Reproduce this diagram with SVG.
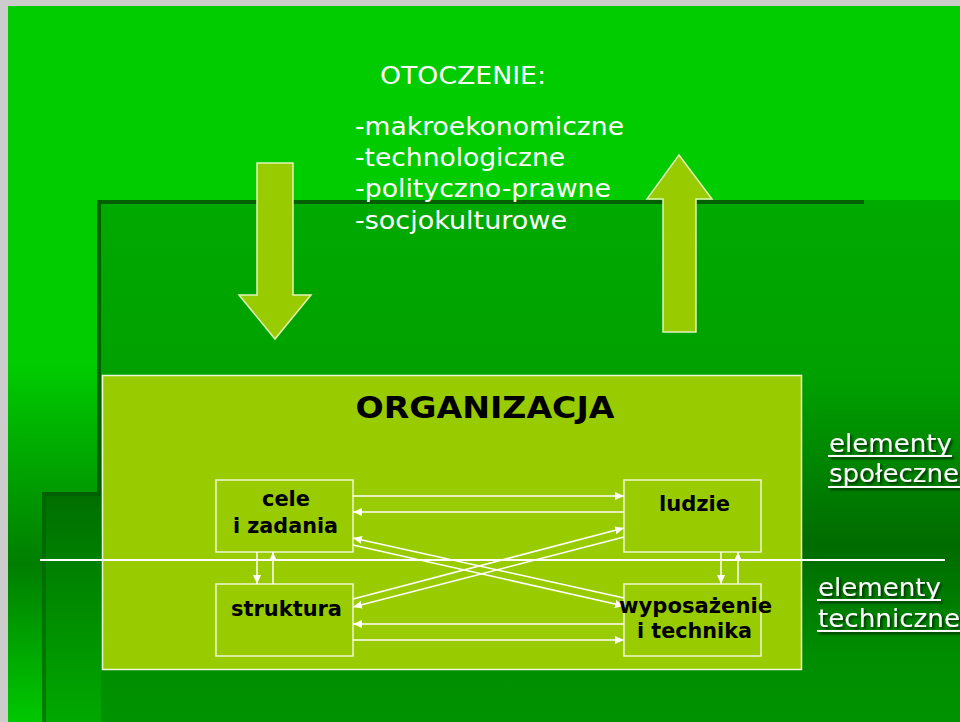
<svg xmlns="http://www.w3.org/2000/svg" width="960" height="722" viewBox="0 0 960 722">
<defs>
<style>
.bg{stroke:none}
.edge{fill:#006000}
.big{fill:#99CC00;stroke:#E4F2B8;stroke-width:1.5}
.org{fill:#99CC00;stroke:#EEF7D4;stroke-width:1.5}
.box{fill:#99CC00;stroke:#EEF7D4;stroke-width:1.5}
.lbl{font-family:"DejaVu Sans",Verdana,sans-serif;font-weight:bold;fill:#000;text-anchor:middle}
.env{font-family:"DejaVu Sans",Verdana,sans-serif;fill:#fff;font-size:25.5px}
.side{font-family:"DejaVu Sans",Verdana,sans-serif;fill:#fff;font-size:25.5px}
.ul{stroke:#fff;stroke-width:2}
.con{stroke:#fff;stroke-width:1.5;fill:none;marker-end:url(#ah)}
</style>
<linearGradient id="gA" gradientUnits="userSpaceOnUse" x1="0" y1="6" x2="0" y2="722">
<stop offset="0" stop-color="#00CC00"/>
<stop offset="0.5" stop-color="#00CC00"/>
<stop offset="0.78" stop-color="#007E00"/>
<stop offset="1" stop-color="#00C800"/>
</linearGradient>
<linearGradient id="gB" gradientUnits="userSpaceOnUse" x1="0" y1="200" x2="0" y2="722">
<stop offset="0" stop-color="#00AA00"/>
<stop offset="0.345" stop-color="#00A000"/>
<stop offset="0.66" stop-color="#006B00"/>
<stop offset="0.88" stop-color="#008E00"/>
<stop offset="1" stop-color="#009200"/>
</linearGradient>
<linearGradient id="gC" gradientUnits="userSpaceOnUse" x1="0" y1="492" x2="0" y2="722">
<stop offset="0" stop-color="#006E00"/>
<stop offset="1" stop-color="#00A800"/>
</linearGradient>
<filter id="sh" x="-10%" y="-30%" width="130%" height="180%">
<feDropShadow dx="2" dy="2" stdDeviation="1" flood-color="#002800" flood-opacity="0.85"/>
</filter>
<marker id="ah" markerWidth="9" markerHeight="8" refX="9" refY="4" orient="auto" markerUnits="userSpaceOnUse">
<path d="M0,0 L9,4 L0,8 z" fill="#fff"/>
</marker>
</defs>

<g id="background">
<rect width="960" height="722" fill="#CCCCCC"/>
<rect class="bg" x="8" y="6" width="952" height="716" fill="url(#gA)"/>
<rect class="bg" x="97" y="200" width="863" height="522" fill="url(#gB)"/>
<rect class="edge" x="97" y="200" width="767" height="4"/>
<rect class="edge" x="97" y="200" width="4" height="522"/>
<rect class="bg" x="42" y="492" width="59" height="230" fill="url(#gC)"/>
<rect class="edge" x="42" y="492" width="59" height="4"/>
<rect x="42" y="492" width="4" height="230" fill="#006000" opacity="0.6"/>
</g>

<g id="arrow-in">
<path class="big" d="M257,163 L293,163 L293,295 L311,295 L275,339 L239,295 L257,295 Z"/>
</g>
<g id="arrow-out">
<path class="big" d="M663,332 L696,332 L696,199 L712,199 L679,155 L647,199 L663,199 Z"/>
</g>

<g id="otoczenie">
<text class="env" x="380" y="84" textLength="166" lengthAdjust="spacingAndGlyphs">OTOCZENIE:</text>
<text class="env" x="355" y="135" textLength="269" lengthAdjust="spacingAndGlyphs">-makroekonomiczne</text>
<text class="env" x="355" y="166" textLength="210" lengthAdjust="spacingAndGlyphs">-technologiczne</text>
<text class="env" x="355" y="197" textLength="256" lengthAdjust="spacingAndGlyphs">-polityczno-prawne</text>
<text class="env" x="355" y="229" textLength="212" lengthAdjust="spacingAndGlyphs">-socjokulturowe</text>
</g>

<g id="organizacja">
<rect class="org" x="102.5" y="375.5" width="699" height="294"/>
<text class="lbl" x="485" y="418" font-size="31" textLength="259" lengthAdjust="spacingAndGlyphs">ORGANIZACJA</text>
</g>

<g id="cele">
<rect class="box" x="216" y="480" width="137" height="72"/>
<text class="lbl" x="286" y="506" font-size="21" textLength="48" lengthAdjust="spacingAndGlyphs">cele</text>
<text class="lbl" x="285.5" y="533" font-size="21" textLength="105" lengthAdjust="spacingAndGlyphs">i zadania</text>
</g>
<g id="ludzie">
<rect class="box" x="624" y="480" width="137" height="72"/>
<text class="lbl" x="694.5" y="511" font-size="21" textLength="71" lengthAdjust="spacingAndGlyphs">ludzie</text>
</g>
<g id="struktura">
<rect class="box" x="216" y="584" width="137" height="72"/>
<text class="lbl" x="286.5" y="616" font-size="21" textLength="111" lengthAdjust="spacingAndGlyphs">struktura</text>
</g>

<line x1="40" y1="560" x2="945" y2="560" stroke="#fff" stroke-width="2"/>

<g id="connectors">
<path class="con" d="M353,496 L624,496"/>
<path class="con" d="M624,512 L353,512"/>
<path class="con" d="M624,598 L353,538"/>
<path class="con" d="M353,545 L624,606"/>
<path class="con" d="M353,599 L624,528"/>
<path class="con" d="M624,537 L353,607"/>
<path class="con" d="M624,624 L353,624"/>
<path class="con" d="M353,640 L624,640"/>
<path class="con" d="M257,552 L257,584"/>
<path class="con" d="M273,584 L273,552"/>
<path class="con" d="M721,552 L721,584"/>
<path class="con" d="M738,584 L738,552"/>
</g>

<g id="wyposazenie">
<rect class="box" x="624" y="584" width="137" height="72"/>
<text class="lbl" x="695.5" y="613" font-size="21" textLength="153" lengthAdjust="spacingAndGlyphs">wyposażenie</text>
<text class="lbl" x="694.5" y="638" font-size="21" textLength="115" lengthAdjust="spacingAndGlyphs">i technika</text>
</g>

<g id="elementy-spoleczne" filter="url(#sh)">
<text class="side" x="829" y="452" textLength="123" lengthAdjust="spacingAndGlyphs">elementy</text>
<line class="ul" x1="828" y1="456" x2="952" y2="456"/>
<text class="side" x="829" y="482" textLength="130" lengthAdjust="spacingAndGlyphs">społeczne</text>
<line class="ul" x1="828" y1="487" x2="960" y2="487"/>
</g>
<g id="elementy-techniczne" filter="url(#sh)">
<text class="side" x="818" y="596" textLength="123" lengthAdjust="spacingAndGlyphs">elementy</text>
<line class="ul" x1="817" y1="600" x2="941" y2="600"/>
<text class="side" x="818" y="627" textLength="142" lengthAdjust="spacingAndGlyphs">techniczne</text>
<line class="ul" x1="817" y1="631" x2="960" y2="631"/>
</g>
</svg>
